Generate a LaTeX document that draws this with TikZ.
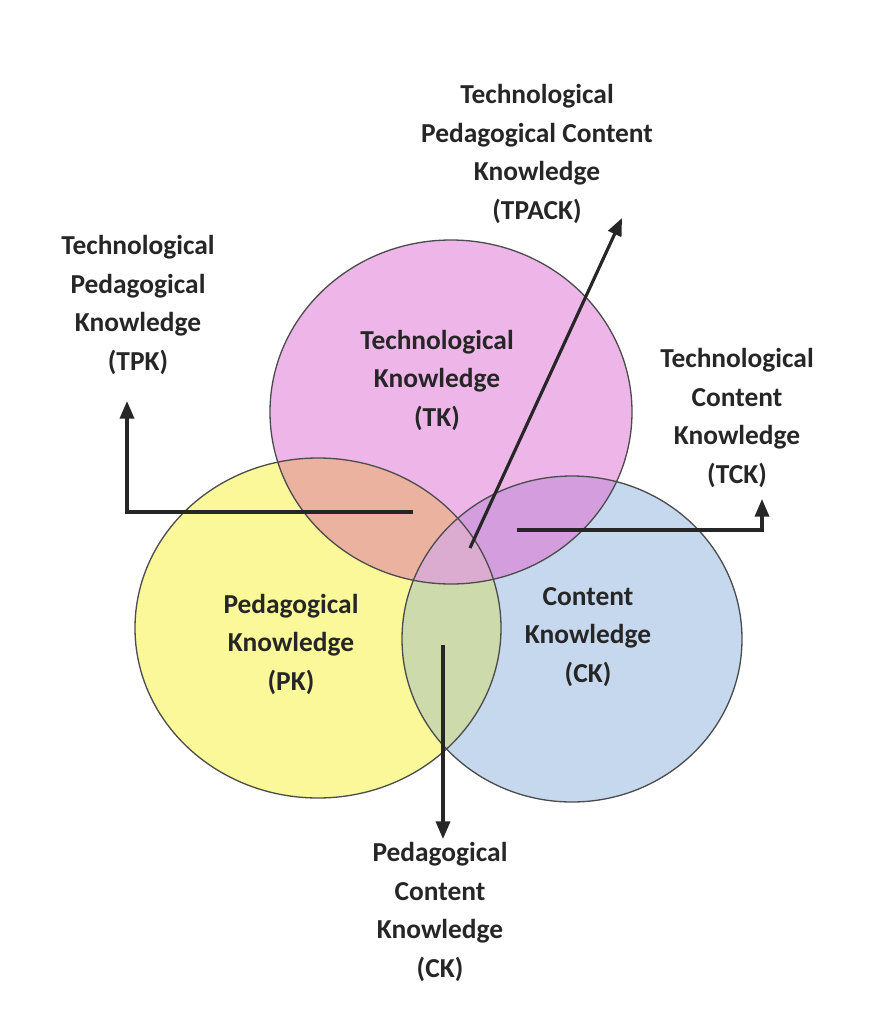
\documentclass[tikz,border=0pt]{standalone}
\usepackage{fontspec}
\setmainfont{Carlito}
\usetikzlibrary{arrows.meta}
\definecolor{tkpink}{RGB}{238,182,232}
\definecolor{pkyellow}{RGB}{250,248,152}
\definecolor{ckblue}{RGB}{198,216,238}
\definecolor{tpksalmon}{RGB}{236,178,160}
\definecolor{tckpurple}{RGB}{212,158,222}
\definecolor{pckgreen}{RGB}{204,218,172}
\definecolor{tpackmauve}{RGB}{220,172,208}
\newcommand{\tkset}{(451,412) ellipse [x radius=181,y radius=172]}
\newcommand{\pkset}{(318,628) ellipse [x radius=183,y radius=170]}
\newcommand{\ckset}{(572,639) ellipse [x radius=170,y radius=163]}
\tikzset{
  label text/.style={align=center,font=\bfseries\fontsize{15.6}{21.9}\selectfont,text=black!85},
  set/.style={draw=black!70,line width=0.75pt},
  pointer/.style={line width=1.8pt,black!85,-{Triangle[width=8pt,length=10pt]}}
}
\begin{document}
\begin{tikzpicture}[x=0.02cm,y=-0.02cm]
				\useasboundingbox (0,0) rectangle (888,1024);
				% the three knowledge sets and their overlaps
				\fill[pkyellow] \pkset;
				\fill[ckblue] \ckset;
				\fill[tkpink] \tkset;
				\begin{scope} \clip \tkset; \fill[tpksalmon] \pkset; \fill[tckpurple] \ckset; \end{scope}
				\begin{scope} \clip \pkset; \fill[pckgreen] \ckset; \clip \ckset; \fill[tpackmauve] \tkset; \end{scope}
				\draw[set] \pkset;
				\draw[set] \ckset;
				\draw[set] \tkset;
				\node[label text] (tk) at (437,380) {Technological\\Knowledge\\(TK)};
				\node[label text] (pk) at (291,644) {Pedagogical\\Knowledge\\(PK)};
				\node[label text] (ck) at (588,637) {Content\\Knowledge\\(CK)};
				% outer labels
				\node[label text] (tpack) at (537,154) {Technological\\Pedagogical Content\\Knowledge\\(TPACK)};
				\node[label text] (tpk) at (138,305) {Technological\\Pedagogical\\Knowledge\\(TPK)};
				\node[label text] (tck) at (737,418) {Technological\\Content\\Knowledge\\(TCK)};
				\node[label text] (pck) at (440,912) {Pedagogical\\Content\\Knowledge\\(CK)};
				% arrows
				\coordinate (tpk start) at (413,512);
				\coordinate (tpk end) at (127,401);
				\coordinate (tpack start) at (470,548);
				\coordinate (tpack end) at (622,218);
				\coordinate (tck start) at (517,530);
				\coordinate (tck end) at (762,499);
				\coordinate (pck start) at (443,645);
				\coordinate (pck end) at (443,839);
				\draw[pointer] (tpk start) -| (tpk end);
				\draw[pointer] (tpack start) -- (tpack end);
				\draw[pointer] (tck start) -| (tck end);
				\draw[pointer] (pck start) -- (pck end);
			\end{tikzpicture}
\end{document}
